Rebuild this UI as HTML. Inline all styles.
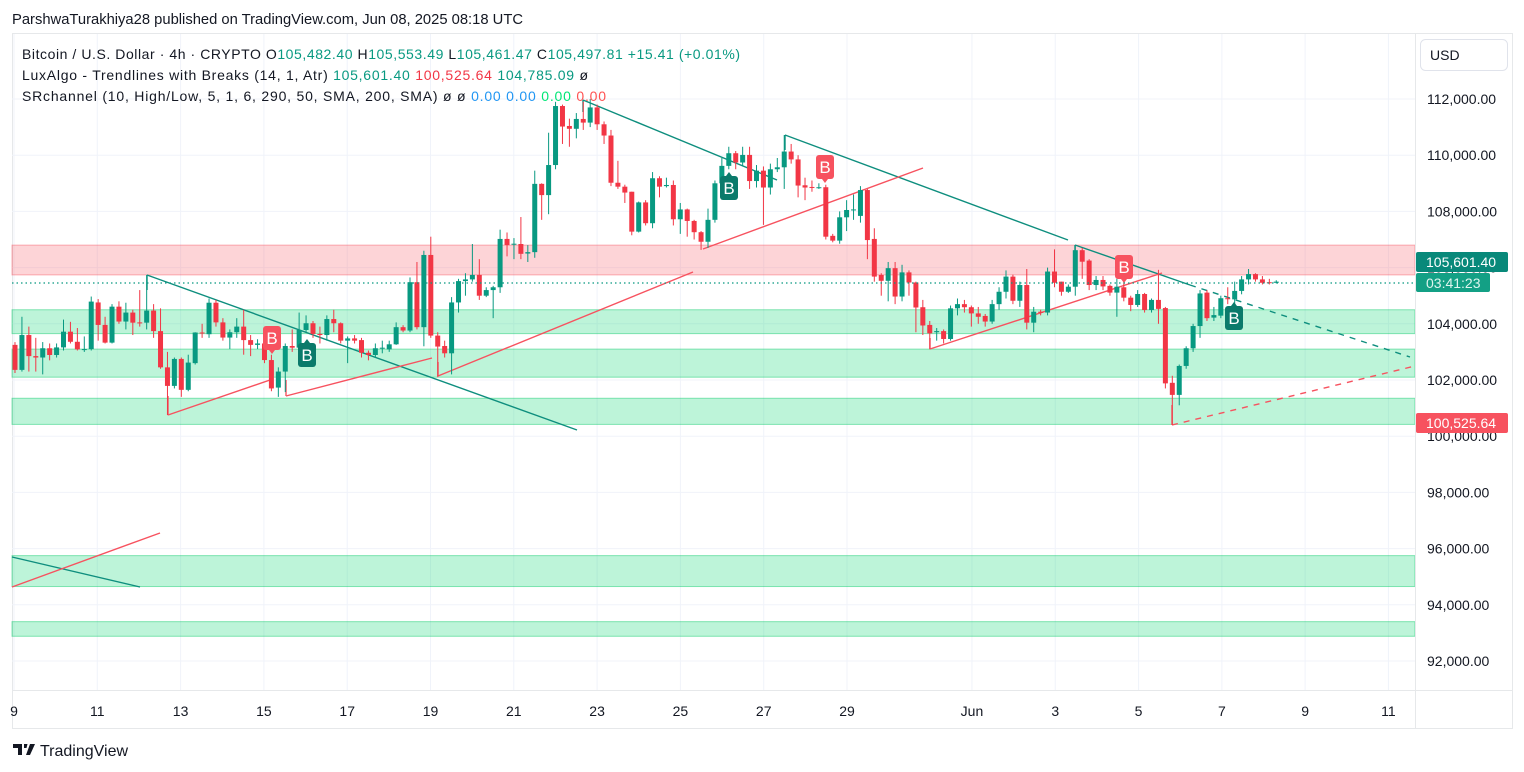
<!DOCTYPE html>
<html><head><meta charset="utf-8">
<style>
html,body{margin:0;padding:0;background:#fff;width:1524px;height:772px;overflow:hidden;font-family:"Liberation Sans",sans-serif;}
svg text{font-family:"Liberation Sans",sans-serif;}
</style></head>
<body>
<svg id="chart" width="1524" height="772" viewBox="0 0 1524 772" xmlns="http://www.w3.org/2000/svg" xml:space="preserve">
<text x="12" y="24" font-size="15" fill="#131722" textLength="511" lengthAdjust="spacingAndGlyphs">ParshwaTurakhiya28 published on TradingView.com, Jun 08, 2025 08:18 UTC</text>
<rect x="12.5" y="33.5" width="1500" height="695" fill="none" stroke="#e6e8ea"/>
<g id="grid"></g>
<g id="zones"></g>
<g id="lines"></g>
<g id="candles"></g>
<g id="markers"></g>
<line x1="1415.5" y1="34" x2="1415.5" y2="728" stroke="#e6e8ea"/>
<line x1="12" y1="690.5" x2="1512" y2="690.5" stroke="#e6e8ea"/>
<g id="yaxis"></g>
<g id="xaxis"></g>
<line x1="12" y1="283" x2="1415" y2="283" stroke="#089981" stroke-dasharray="1.5,3" stroke-width="1.2"/>
<rect x="1420.5" y="39.5" width="87" height="31" rx="5" fill="#fff" stroke="#e0e3eb"/>
<text x="1430" y="60" font-size="14" fill="#131722">USD</text>
<rect x="1416" y="252" width="92" height="20" rx="2" fill="#08897a"/>
<text x="1426" y="267" font-size="14" fill="#fff">105,601.40</text>
<rect x="1416" y="273" width="74" height="19" rx="2" fill="#13a085"/>
<text x="1426" y="288" font-size="14" fill="#dff5ef">03:41:23</text>
<rect x="1416" y="413" width="92" height="20" rx="2" fill="#f7525f"/>
<text x="1426" y="428" font-size="14" fill="#fff">100,525.64</text>
<g font-size="14">
<text x="22" y="59" fill="#131722" textLength="718" lengthAdjust="spacing">Bitcoin / U.S. Dollar · 4h · CRYPTO  O<tspan fill="#089981">105,482.40</tspan>  H<tspan fill="#089981">105,553.49</tspan>  L<tspan fill="#089981">105,461.47</tspan>  C<tspan fill="#089981">105,497.81  +15.41 (+0.01%)</tspan></text>
<text x="22" y="80" fill="#131722" textLength="566" lengthAdjust="spacing">LuxAlgo - Trendlines with Breaks (14, 1, Atr)  <tspan fill="#089981">105,601.40</tspan>  <tspan fill="#f23645">100,525.64</tspan>  <tspan fill="#089981">104,785.09</tspan>  ø</text>
<text x="22" y="101" fill="#131722" textLength="584" lengthAdjust="spacing">SRchannel (10, High/Low, 5, 1, 6, 290, 50, SMA, 200, SMA)  ø  ø  <tspan fill="#2196f3">0.00</tspan>  <tspan fill="#2196f3">0.00</tspan>  <tspan fill="#00e676">0.00</tspan>  <tspan fill="#ff5252">0.00</tspan></text>
</g>
<g>
<path d="M13 744h9v11h-4v-7h-5z M24 744h3.5l-1 4h-2.5z M30 744h5l-5 11h-4z" fill="#131722"/>
<text x="40" y="756" font-size="16" fill="#131722">TradingView</text>
</g>
</svg>
<script>
const opens=[103.25,102.36,103.60,102.85,102.80,103.13,102.89,103.16,103.72,103.36,103.09,103.10,104.76,103.96,103.33,104.61,104.08,104.40,104.05,104.04,104.47,103.74,102.45,101.79,102.75,101.65,102.60,103.69,103.63,104.75,104.05,103.51,103.70,103.90,103.42,103.25,103.30,102.71,101.73,102.30,103.21,103.15,103.78,104.02,103.64,103.60,104.17,104.02,103.40,103.48,103.42,102.97,102.89,103.13,103.09,103.27,103.88,103.76,105.48,103.88,106.45,103.58,103.21,102.95,104.76,105.52,105.58,105.74,105.00,105.20,105.30,107.02,106.83,106.84,106.50,106.55,108.98,108.58,109.65,111.75,111.04,110.94,111.29,111.16,111.70,111.10,110.70,109.02,108.88,108.70,107.28,108.32,107.58,109.18,108.90,108.94,107.72,108.07,107.66,107.26,106.92,107.70,109.00,109.62,110.07,109.74,110.01,109.08,109.45,108.85,109.50,109.57,110.13,109.85,108.93,108.87,108.84,108.86,107.13,106.96,107.79,108.05,107.84,108.76,107.02,105.74,105.53,105.98,104.97,105.83,105.47,104.59,103.96,103.70,103.74,103.46,104.55,104.70,104.59,104.37,104.28,104.08,104.70,105.14,105.68,104.82,105.38,104.04,104.43,104.40,105.86,105.50,105.14,105.32,106.62,106.25,105.38,105.56,105.35,105.11,105.30,104.93,104.67,105.06,104.49,104.85,104.56,101.90,101.47,102.50,103.13,103.92,105.11,104.22,104.29,104.91,104.87,105.17,105.58,105.77,105.58,105.48,105.46];
const closes=[102.36,103.60,102.85,102.80,103.13,102.89,103.16,103.72,103.36,103.09,103.10,104.79,103.96,103.33,104.61,104.08,104.40,104.04,104.04,104.47,103.74,102.45,101.79,102.75,101.65,102.62,103.69,103.66,104.75,104.05,103.51,103.70,103.90,103.42,103.25,103.30,102.71,101.70,102.30,103.21,103.15,103.78,104.02,103.64,103.60,104.17,104.02,103.40,103.48,103.40,102.97,102.89,103.13,103.15,103.27,103.88,103.76,105.48,103.88,106.45,103.58,103.19,102.95,104.76,105.52,105.58,105.74,105.00,105.20,105.30,107.02,106.80,106.85,106.49,106.55,108.98,108.58,109.65,111.75,111.02,110.94,111.29,111.16,111.70,111.10,110.70,109.02,108.88,108.67,107.28,108.32,107.58,109.18,108.88,108.94,107.72,108.07,107.66,107.26,106.92,107.70,109.00,109.62,110.07,109.74,110.01,109.08,109.45,108.85,109.50,109.57,110.13,109.85,108.92,108.85,108.84,108.86,107.10,106.96,107.79,108.05,108.07,108.76,106.98,105.68,105.53,105.98,104.97,105.83,105.47,104.58,103.94,103.66,103.74,103.46,104.55,104.70,104.59,104.37,104.25,104.08,104.70,105.14,105.68,104.82,105.38,104.04,104.43,104.40,105.86,105.46,105.14,105.32,106.62,106.21,105.38,105.56,105.33,105.11,105.32,104.93,104.67,105.06,104.49,104.85,104.53,101.88,101.47,102.50,103.13,103.92,105.08,104.20,104.31,104.91,104.88,105.17,105.58,105.77,105.58,105.46,105.46,105.50];
const highs=[103.35,104.25,103.90,103.50,103.35,103.30,103.30,104.15,104.07,103.85,103.55,104.97,104.88,104.25,104.70,104.80,104.75,104.50,105.20,105.74,104.70,104.55,103.00,102.80,102.80,102.90,103.70,104.00,104.90,104.85,104.20,103.80,104.20,104.50,103.60,103.45,103.40,102.90,102.45,103.30,103.80,104.40,104.30,104.10,103.90,104.30,104.50,104.05,103.55,103.60,103.50,103.05,103.30,103.40,103.40,104.05,103.95,105.65,106.20,106.60,107.10,103.70,103.40,104.95,105.60,105.80,106.84,106.30,105.30,105.35,107.35,107.25,107.05,107.80,106.80,109.45,109.00,110.80,111.90,111.80,111.30,111.50,111.90,112.00,111.80,111.20,110.90,109.80,108.95,108.70,108.35,108.40,109.40,109.25,109.20,109.10,108.30,108.10,107.70,107.30,108.10,109.10,109.90,110.30,110.15,110.30,110.30,109.65,109.60,109.70,109.90,110.72,110.40,110.00,109.20,109.10,109.00,108.95,107.20,108.00,108.40,108.60,108.90,108.80,107.40,105.80,106.20,106.20,106.10,105.90,105.50,104.85,104.10,103.85,103.80,104.65,104.90,104.85,104.65,104.60,104.35,104.85,105.30,105.90,105.75,105.50,105.95,104.60,104.50,106.00,106.65,105.50,105.40,106.80,106.70,106.30,105.70,105.70,105.40,105.60,105.60,105.00,105.20,105.10,104.90,105.92,104.60,102.15,102.55,103.20,104.00,105.20,105.20,104.60,105.00,105.30,105.50,105.70,105.95,105.80,105.70,105.60,105.55];
const lows=[102.25,102.30,102.30,102.30,102.20,102.70,102.80,103.05,103.30,103.05,103.00,103.05,103.40,103.30,103.30,104.00,103.80,103.60,103.90,103.80,103.50,102.40,100.75,101.70,101.40,101.60,102.55,103.50,103.50,103.90,103.40,103.10,103.50,102.90,102.85,103.10,102.60,101.60,101.40,101.57,103.00,103.10,103.70,103.50,103.30,103.40,103.70,103.30,102.60,103.30,102.80,102.70,102.80,102.95,103.00,103.25,103.70,103.70,103.80,103.20,103.50,102.10,102.80,102.20,104.40,105.00,105.50,104.85,104.95,104.20,105.10,106.40,106.30,106.30,106.20,106.35,107.70,107.90,109.50,110.40,110.30,110.60,110.90,111.00,110.90,110.40,108.90,108.80,108.30,107.15,107.25,107.50,107.40,108.50,108.85,107.50,107.20,107.10,107.00,106.63,106.70,107.60,108.90,109.50,109.50,109.60,108.80,108.85,107.52,108.60,109.40,108.80,109.70,108.50,108.40,108.70,108.80,107.00,106.90,106.85,107.30,107.70,107.60,106.30,105.50,105.00,104.80,104.70,104.80,105.00,103.70,103.60,103.09,103.40,103.30,103.40,104.30,104.40,103.90,104.00,103.90,104.00,104.50,104.90,104.70,104.60,103.80,103.70,104.30,104.30,105.30,105.00,105.10,105.00,105.60,105.20,105.20,105.20,105.00,104.25,104.80,104.45,104.60,104.40,104.40,104.00,101.70,100.40,101.10,102.40,103.00,103.50,104.10,104.10,104.20,104.70,104.70,105.05,105.40,105.50,105.40,105.40,105.44];
const priceTicks=[112,110,108,106,104,102,100,98,96,94,92];
const priceTickLabels=["112,000.00","110,000.00","108,000.00","106,000.00","104,000.00","102,000.00","100,000.00","98,000.00","96,000.00","94,000.00","92,000.00"];
const dateOffsets=[0,2,4,6,8,10,12,14,16,18,20,23,25,27,29,31,33];
const dateLabels=["9","11","13","15","17","19","21","23","25","27","29","Jun","3","5","7","9","11"];
const zoneTops=[106.8,104.5,103.1,101.35,95.75,93.4];
const zoneBottoms=[105.74,103.65,102.1,100.42,94.65,92.88];
const zoneKinds=["res","sup","sup","sup","sup","sup"];

const NS="http://www.w3.org/2000/svg";
function xIdx(i){return 15+6.93*i;}
function xDay(d){return 14+41.65*d;}
function yP(p){return 99+(112-p)*28.1;}
function mk(tag,attrs,parent){const e=document.createElementNS(NS,tag);for(const k in attrs)e.setAttribute(k,attrs[k]);parent.appendChild(e);return e;}
const g=id=>document.getElementById(id);

priceTicks.forEach((p,i)=>{
  const l=mk('line',{x1:12,x2:1415,y1:yP(p),y2:yP(p),stroke:'#f0f3fa'},g('grid'));
  
  
  const t=mk('text',{x:1427,y:yP(p)+5,'font-size':14,fill:'#131722'},g('yaxis'));
  
  
  t.textContent=priceTickLabels[i];
});
dateOffsets.forEach((d,i)=>{
  const x=xDay(d);
  const l=mk('line',{x1:x,x2:x,y1:34,y2:690,stroke:'#f0f3fa'},g('grid'));
  
  
  const t=mk('text',{x:x,y:716,'font-size':14,fill:'#131722','text-anchor':'middle'},g('xaxis'));
  
  
  t.textContent=dateLabels[i];
});
zoneTops.forEach((top,i)=>{
  const res=zoneKinds[i]==='res';
  const r=mk('rect',{x:12,width:1403,y:yP(top),height:yP(zoneBottoms[i])-yP(top),fill:res?'rgba(247,82,95,0.25)':'rgba(0,214,110,0.26)',stroke:res?'rgba(247,82,95,0.45)':'rgba(0,200,100,0.45)'},g('zones'));
  
  
});
const tl=[[147,275,577,430,'#0e8e7e',0],[583,100,777,180,'#0e8e7e',0],[785,135,1068,240,'#0e8e7e',0],[1075,245,1190,285,'#0e8e7e',0],[1190,285,1410,357,'#0e8e7e',1],[12,557,140,587,'#0e8e7e',0],
[168,415,270,380,'#f7525f',0],[286,396,432,358,'#f7525f',0],[438,376,693,272,'#f7525f',0],[703,249,923,168,'#f7525f',0],[930,349,1162,273,'#f7525f',0],[1172,425,1415,366,'#f7525f',1],[12,587,160,533,'#f7525f',0],
[168,415,168,396,'#f7525f',0],[286,396,286,380,'#f7525f',0],[438,376,438,362,'#f7525f',0],[930,349,930,338,'#f7525f',0],[1172,425,1172,405,'#f7525f',0],[147,275,147,290,'#0e8e7e',0],[785,135,785,150,'#0e8e7e',0],[1075,245,1075,258,'#0e8e7e',0],[583,100,583,112,'#0e8e7e',0]];
tl.forEach(a=>{
  const l=mk('line',{x1:a[0],y1:a[1],x2:a[2],y2:a[3],stroke:a[4],'stroke-width':1.4},g('lines'));
  if(a[5])l.setAttribute('stroke-dasharray','6,6');
  
  
});
opens.forEach((o,i)=>{
  const c=closes[i],up=c>=o,col=up?'#089981':'#f23645',x=xIdx(i);
  const w=mk('line',{x1:x,x2:x,y1:yP(highs[i]),y2:yP(lows[i]),stroke:col,'stroke-width':1},g('candles'));
  
  
  const top=yP(Math.max(o,c)),h=Math.max(1,Math.abs(yP(o)-yP(c)));
  const b=mk('rect',{x:x-2.5,y:top,width:5,height:h,fill:col},g('candles'));
  
  
});
const mks=[[272,338,'r'],[307,355,'g'],[729,188,'g'],[825,167,'r'],[1124,267,'r'],[1234,318,'g']];
mks.forEach(m=>{
  const red=m[2]==='r',col=red?'#f7525f':'#0b7a6b';
  const grp=mk('g',{},g('markers'));
  
  
  mk('rect',{x:m[0]-9,y:m[1]-12,width:18,height:24,rx:3,fill:col},grp);
  if(red)mk('path',{d:`M${m[0]-3} ${m[1]+12}L${m[0]} ${m[1]+16}L${m[0]+3} ${m[1]+12}Z`,fill:col},grp);
  else mk('path',{d:`M${m[0]-3} ${m[1]-12}L${m[0]} ${m[1]-16}L${m[0]+3} ${m[1]-12}Z`,fill:col},grp);
  const t=mk('text',{x:m[0],y:m[1]+6,'font-size':17,fill:'#fff','text-anchor':'middle','font-family':'Liberation Serif'},grp);
  t.textContent='B';
});
</script>
</body></html>
